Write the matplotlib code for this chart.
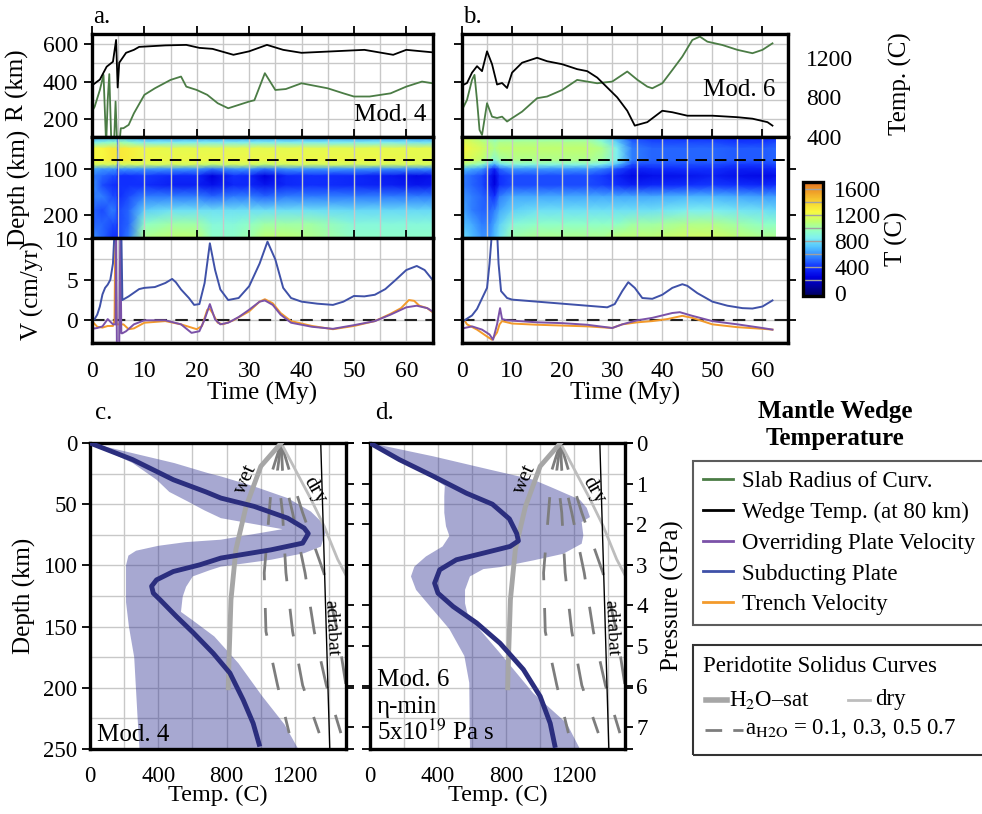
import numpy as np
import matplotlib
matplotlib.use("Agg")
import matplotlib.pyplot as plt
from matplotlib.colors import LinearSegmentedColormap, Normalize
from matplotlib.lines import Line2D
from matplotlib.patches import Rectangle
from matplotlib.ticker import MultipleLocator

plt.rcParams['font.family'] = ['Liberation Serif', 'DejaVu Serif']
plt.rcParams['mathtext.fontset'] = 'stix'
plt.rcParams['font.size'] = 17

# ---------------- data: panel a (Mod. 4) ----------------
t_R_a = [0, 0.5, 1.5, 2.2, 2.7, 3.0, 3.3, 3.7, 4.2, 4.5, 4.8, 5.2, 5.5, 6, 7, 8, 10, 12, 15, 17, 18,
         20, 22, 24, 26, 28, 30, 31, 33, 35, 37, 40, 45, 48, 50, 53, 57, 60, 63, 65]
R_a = [240, 265, 355, 436, 60, 300, 440, 60, 60, 293, 60, 60, 150, 150, 168, 230, 329, 364, 409, 427, 373,
       355, 329, 284, 257, 275, 293, 300, 445, 355, 360, 391, 364, 337, 320, 320, 337, 373, 400, 391]
t_wt_a = [0, 1.5, 2.8, 4.0, 4.6, 4.9, 5.2, 6.5, 8, 9, 14, 18, 20.5, 23, 27, 30, 33.4, 36.5, 40, 46, 52,
          57.5, 60, 65]
T_wt_a = [920, 980, 1110, 1160, 1380, 900, 1150, 1250, 1280, 1310, 1325, 1330, 1300, 1290, 1230, 1265,
          1330, 1280, 1250, 1265, 1280, 1230, 1280, 1255]

t_sub_a = [0, 0.5, 1, 1.5, 2, 2.5, 3, 3.5, 4, 4.3, 5.6, 5.8, 7, 9, 10, 12, 14, 15.3, 16, 17, 18.5, 19.5,
           20.5, 21.5, 22.5, 23.5, 24.5, 26, 28, 30, 32, 33.5, 35, 36.5, 38, 40, 43, 46, 48, 50, 52, 54,
           56, 58, 60, 62, 63.5, 65]
v_sub_a = [0, 0.15, 0.7, 1.7, 3.2, 4.0, 4.4, 5.0, 7.0, 11, 11, 2.5, 2.95, 3.85, 4.0, 4.1, 4.6, 5.1, 4.7,
           3.8, 2.75, 1.9, 2.0, 4.6, 9.5, 6.2, 3.8, 2.5, 2.75, 4.2, 7.0, 9.7, 7.5, 4.0, 2.75, 2.3, 2.05,
           1.9, 2.3, 3.0, 2.95, 3.15, 3.85, 5.0, 6.2, 6.7, 6.2, 5.0]
t_tr_a = [0, 1, 2, 3, 4, 4.3, 4.45, 4.7, 5.5, 6, 7, 8, 10, 14, 17, 20, 21, 22, 22.5, 23, 24, 25, 27, 30,
          32, 33, 34.5, 36, 38, 42, 46, 50, 54, 57, 59, 60.5, 61.5, 62.5, 64, 65]
v_tr_a = [-0.1, -0.8, -0.9, -0.7, -0.7, 0, 11, -0.5, -0.5, -0.5, -1.1, -1.0, -0.3, -0.1, -0.5, -1.1,
          -0.7, 1.3, 1.4, 0.9, -0.3, -0.5, 0, 1.1, 2.3, 2.6, 2.1, 0.9, -0.1, -0.7, -1.1, -0.7, -0.1,
          0.8, 1.5, 2.5, 2.4, 1.8, 1.5, 1.0]
t_ov_a = [0, 1, 2, 3, 4, 4.5, 4.6, 4.75, 5.2, 5.4, 5.6, 5.8, 6.5, 8, 10, 14, 17, 19, 20.5, 21.5, 22.5,
          23.5, 24.5, 26, 28, 30, 32, 33, 34.5, 36, 38, 42, 46, 50, 54, 57, 60, 62, 64, 65]
v_ov_a = [-1.05, -0.95, -0.75, 0.15, -0.5, -0.5, 11, -3, -3, 11, -1.6, -1.6, -1.35, -0.5, 0, 0, -0.5,
          -1.55, -1.35, 0.1, 2.0, 0.1, -0.5, -0.3, 0.4, 1.3, 2.3, 2.45, 1.9, 0.7, -0.3, -0.8, -1.05,
          -0.6, -0.1, 0.7, 1.6, 1.8, 1.5, 1.1]

# ---------------- data: panel b (Mod. 6) ----------------
t_R_b = [0, 1, 2, 2.5, 3, 3.5, 4, 5, 6, 7, 8, 9, 10, 12, 15, 17, 20, 23, 25, 27, 30, 32, 33, 35, 37, 38,
         40, 42, 44, 46, 47.5, 49, 52, 55, 58, 60, 62]
R_b = [248, 302, 409, 436, 300, 141, 114, 284, 212, 205, 212, 186, 204, 239, 311, 320, 355, 409, 400,
       391, 400, 436, 454, 410, 373, 364, 391, 462, 534, 623, 641, 614, 596, 570, 552, 570, 605]
t_wt_b = [0, 1, 2, 3, 4, 5, 6, 7, 8, 9, 10, 12, 15, 17, 20, 23, 25, 27, 29, 31, 33, 34.5, 37, 40, 42,
          45, 50, 55, 58, 61, 62]
T_wt_b = [920, 945, 1050, 1115, 1065, 1265, 1135, 930, 945, 895, 1050, 1150, 1200, 1165, 1135, 1085,
          1065, 1000, 900, 800, 665, 515, 550, 665, 650, 615, 615, 600, 585, 550, 515]

t_sub_b = [0.5, 2, 3, 4, 5, 5.5, 6, 7, 7.3, 7.8, 9, 10, 15, 20, 25, 29, 30.5, 32, 33.2, 34.5, 36, 38,
           40, 42, 44, 45, 47, 50, 53, 56, 58, 60, 62]
v_sub_b = [0, 0.6, 1.4, 2.7, 4.0, 7.0, 11, 11, 7.0, 3.6, 2.75, 2.55, 2.3, 2.05, 1.8, 1.6, 2.0, 3.6,
           4.7, 4.0, 2.75, 2.65, 3.15, 4.0, 4.45, 4.25, 3.35, 2.3, 1.8, 1.5, 1.45, 1.7, 2.45]
t_tr_b = [0.5, 1, 3, 5, 6, 7, 7.5, 8, 10, 15, 20, 25, 30, 32, 35, 38, 41, 44, 46, 50, 55, 60, 62]
v_tr_b = [0, -0.5, -1.15, -2.0, -2.4, -1.5, -0.5, -0.1, -0.4, -0.55, -0.65, -0.75, -0.95, -0.5,
          -0.25, -0.1, 0.15, 0.55, 0.3, -0.5, -0.85, -1.05, -1.15]
t_ov_b = [0.5, 2, 4, 5.5, 6.2, 7, 7.6, 8, 9, 15, 20, 25, 30, 32, 35, 38, 42, 43.5, 46, 50, 55, 60, 62]
v_ov_b = [-0.95, -0.75, -1.15, -1.75, -2.4, -0.5, 1.5, 0.15, 0, -0.25, -0.35, -0.55, -0.95, -0.5, 0,
          0.3, 0.9, 1.0, 0.55, -0.1, -0.5, -0.95, -1.15]

# ---------------- data: wedge temperature fields (coarse grid) ----------------
heat_depth = [30, 42, 55, 80, 90, 100, 115, 135, 160, 190, 220, 250]
hm_time_a = [0, 2, 4, 4.7, 5.0, 5.3, 7, 10, 15, 20, 23, 27, 30, 33, 37, 42, 50, 57, 62, 65]
hm_a = [
    [600, 850, 1250, 1250, 1150, 650, 550, 600, 550, 500, 500, 600],
    [650, 900, 1250, 1250, 1150, 600, 500, 450, 550, 450, 500, 500],
    [650, 950, 1300, 1300, 1150, 600, 450, 400, 450, 550, 450, 400],
    [650, 950, 1300, 1300, 1150, 600, 450, 400, 450, 500, 450, 400],
    [400, 450, 500, 500, 400, 300, 250, 250, 250, 300, 300, 300],
    [700, 1000, 1300, 1300, 1150, 600, 400, 400, 400, 450, 450, 450],
    [650, 950, 1280, 1280, 1150, 600, 400, 400, 450, 500, 500, 550],
    [600, 850, 1220, 1220, 1150, 600, 420, 400, 550, 750, 950, 1050],
    [600, 850, 1200, 1220, 1150, 600, 380, 350, 550, 800, 1000, 1100],
    [600, 850, 1200, 1220, 1150, 600, 380, 350, 550, 800, 1000, 1100],
    [600, 850, 1200, 1220, 1100, 520, 250, 300, 500, 800, 900, 950],
    [600, 850, 1200, 1220, 1150, 600, 400, 380, 550, 800, 900, 950],
    [600, 850, 1200, 1220, 1150, 600, 380, 380, 550, 800, 950, 1000],
    [620, 850, 1200, 1220, 1100, 520, 250, 320, 500, 800, 1000, 1100],
    [600, 850, 1200, 1220, 1150, 600, 380, 380, 550, 800, 1000, 1100],
    [600, 850, 1200, 1220, 1150, 600, 400, 400, 550, 800, 1000, 1050],
    [600, 850, 1200, 1220, 1150, 600, 380, 380, 550, 780, 900, 950],
    [600, 850, 1200, 1220, 1150, 580, 330, 350, 550, 780, 900, 950],
    [580, 820, 1200, 1200, 1150, 580, 280, 320, 550, 780, 900, 950],
    [580, 820, 1200, 1200, 1150, 580, 300, 330, 550, 780, 900, 950],
]
hm_time_b = [0, 2, 4, 5.5, 6.5, 7.5, 10, 15, 20, 25, 28, 31, 34, 38, 45, 50, 55, 60, 62.6]
hm_b = [
    [1150, 1200, 1250, 1200, 1050, 700, 550, 550, 600, 650, 700, 800],
    [1100, 1150, 1200, 1150, 1000, 650, 500, 500, 550, 550, 650, 700],
    [1000, 1100, 1150, 1100, 950, 600, 450, 450, 500, 500, 550, 600],
    [950, 1050, 1100, 1000, 750, 450, 350, 350, 450, 500, 550, 600],
    [900, 1000, 1050, 900, 650, 350, 250, 250, 400, 550, 650, 700],
    [950, 1050, 1100, 1000, 800, 500, 400, 400, 550, 650, 750, 800],
    [950, 1050, 1100, 1050, 900, 600, 450, 450, 650, 750, 900, 1000],
    [950, 1050, 1100, 1050, 900, 600, 450, 450, 650, 800, 950, 1050],
    [950, 1050, 1100, 1050, 900, 600, 450, 450, 650, 800, 950, 1050],
    [950, 1050, 1100, 1050, 900, 600, 450, 450, 650, 800, 950, 1050],
    [850, 950, 1050, 1000, 850, 550, 420, 430, 650, 800, 950, 1050],
    [650, 750, 850, 850, 700, 450, 350, 400, 650, 800, 950, 1100],
    [450, 500, 550, 550, 450, 350, 280, 350, 650, 800, 1000, 1100],
    [420, 450, 500, 500, 450, 380, 300, 380, 650, 800, 1000, 1100],
    [400, 450, 500, 500, 450, 400, 320, 400, 680, 850, 1050, 1150],
    [400, 450, 500, 500, 450, 400, 350, 420, 680, 850, 1050, 1150],
    [380, 420, 480, 480, 420, 350, 300, 400, 650, 820, 1000, 1100],
    [380, 420, 480, 480, 420, 350, 280, 380, 620, 800, 950, 1050],
    [400, 450, 500, 500, 450, 380, 300, 400, 620, 780, 950, 1050],
]

# ---------------- data: mantle wedge profiles ----------------
T_mean_c = [0, 250, 488, 680, 767, 962, 1158, 1255, 1279, 1246, 1060, 767, 644, 488, 390, 361, 371, 410,
            507, 605, 722, 820, 898, 956, 995]
d_mean_c = [0, 13.6, 30, 40, 45, 51.8, 61.4, 69.5, 74, 81.8, 87.3, 94, 99.5, 105, 111.8, 117, 122.7,
            128, 141.8, 155, 171.8, 188, 210, 229, 248]
T_hi_c = [0, 494, 689, 767, 962, 1158, 1294, 1363, 1382, 1353, 1255, 1060, 767, 700, 602, 563, 543, 533,
          600, 728, 870, 1010, 1140, 1220]
d_hi_c = [0, 16.4, 24.5, 27.3, 35.5, 45, 56, 65.4, 72.3, 84.6, 90, 95.4, 101, 104, 109, 117.5, 125.6,
          138, 144.7, 158, 180, 207, 230, 250]
T_lo_c = [0, 250, 390, 465, 572, 670, 767, 1128, 767, 560, 400, 270, 225, 211, 211, 228, 259, 269, 279, 290]
d_lo_c = [0, 16.4, 30, 40, 47.7, 55, 61.4, 70.4, 79, 81, 84, 88, 92, 100, 130, 150, 175, 200, 225, 250]

T_mean_d = [0, 173, 370, 567, 720, 820, 863, 873, 824, 666, 508, 410, 380, 400, 489, 627, 765, 902, 1001,
            1060, 1090]
d_mean_d = [0, 13.6, 27, 41, 50, 62, 74, 80, 84.5, 90, 95.4, 103.6, 114.5, 122.7, 133.6, 147, 163.6, 185,
            207, 229, 249]
T_hi_d = [0, 372, 706, 961, 1080, 1235, 1275, 1294, 1245, 1255, 1245, 1137, 961, 765, 667, 588, 559,
          559, 578, 647, 765, 961, 1157, 1235]
d_hi_d = [0, 10.9, 21.8, 30, 37, 46.4, 53, 60.5, 64.6, 75.5, 82.3, 90.5, 95.9, 101.4, 103, 109, 120,
          131, 142, 152.6, 171.7, 204.5, 229, 250]
T_lo_d = [0, 160, 350, 440, 437, 437, 447, 467, 427, 329, 261, 241, 271, 369, 467, 555, 584, 588]
d_lo_d = [0, 13.6, 27, 35, 43.6, 57, 68, 76, 84.5, 92.7, 101, 109, 120, 136, 152, 174, 196, 250]

# peridotite solidus curves (T in C, depth in km)
wet_T = [1120, 1001, 914, 855, 826, 816, 810]
wet_d = [0, 19, 52, 87, 128, 170, 200]
dry_T = [1120, 1295, 1372, 1451, 1500]
dry_d = [0, 46, 68, 95, 108]
a_depth = [0, 22, 57, 106, 154, 198, 237]
a_T = [
    [1120, 1070, 1050, 1021, 1031, 1099, 1167],
    [1120, 1099, 1128, 1148, 1187, 1246, 1343],
    [1120, 1128, 1187, 1260, 1314, 1385, 1470],
    [1120, 1167, 1246, 1370, 1451, 1500, 1540],
]
adiabat_T = [1352, 1405]
adiabat_d = [0, 250]
gpa_per_km = 1 / 33.1

# ---------------- colours ----------------
c_green = '#4b7c45'
c_purple = '#7b52a8'
c_blue = '#3f51a8'
c_orange = '#f39a2b'
c_navy = '#2b2e7e'

cm_vals = [-40, 250, 400, 550, 700, 850, 950, 1100, 1250, 1400, 1550, 1700]
cm_cols = ['#000060', '#0000e0', '#1030ff', '#3080ff', '#50c0ff', '#80f0f0', '#90ffc8', '#c0ff70',
           '#f8f840', '#f8d030', '#f0a028', '#e07020']
vmin, vmax = cm_vals[0], cm_vals[-1]
cmap = LinearSegmentedColormap.from_list(
    'wedge', [((v - vmin) / (vmax - vmin), c) for v, c in zip(cm_vals, cm_cols)])
norm = Normalize(vmin=vmin, vmax=vmax)

W, H = 982, 814
fig = plt.figure(figsize=(W / 100, H / 100), dpi=100)
TICK = 17


def box(l, t, r, b):
    return fig.add_axes([l / W, 1 - b / H, (r - l) / W, (b - t) / H])


def top_style(ax, labels_left, right):
    for s in ax.spines.values():
        s.set_linewidth(2.4)
    ax.set_xlim(0, 65.1)
    ax.xaxis.set_major_locator(MultipleLocator(10))
    ax.xaxis.set_minor_locator(MultipleLocator(5))
    ax.grid(True, which='both', axis='x', color='#c8c8c8', lw=1)
    ax.tick_params(which='major', direction='out', length=6, width=1.3, top=True, bottom=False,
                   labelbottom=False, left=True, labelleft=labels_left, right=right,
                   labelright=False, labelsize=TICK, pad=4)
    ax.tick_params(which='minor', length=0)


def top_column(x0, x1, t_R, R, t_wt, T_wt, hm_time, hm, vel, labels_left, right, mod_text, mod_xy):
    # radius of curvature + wedge temperature
    axR = box(x0, 34, x1, 137)
    top_style(axR, labels_left, right)
    axR.set_ylim(103, 655)
    axR.yaxis.set_major_locator(MultipleLocator(200))
    axR.yaxis.set_minor_locator(MultipleLocator(100))
    axR.grid(True, which='both', axis='y', color='#c8c8c8', lw=1)
    axR.plot(t_R, R, color=c_green, lw=1.3)
    axT = axR.twinx()
    axT.set_ylim(400, 1440)
    for s in axT.spines.values():
        s.set_visible(False)
    axT.plot(t_wt, T_wt, color='k', lw=1.3)
    axR.text(mod_xy[0], mod_xy[1], mod_text, transform=axR.transAxes, ha='right', va='center',
             fontsize=18)

    # temperature field
    axH = box(x0, 137, x1, 238)
    top_style(axH, labels_left, right)
    axH.pcolormesh(hm_time, heat_depth, np.array(hm).T, shading='gouraud', cmap=cmap, norm=norm)
    axH.set_ylim(250, 30)
    axH.set_yticks([100, 200])
    axH.axhline(80, color='k', lw=1.4, ls=(0, (6, 4)))

    # plate velocities
    axV = box(x0, 238, x1, 343)
    top_style(axV, labels_left, right)
    axV.set_ylim(-2.8, 10.15)
    axV.yaxis.set_major_locator(MultipleLocator(5))
    axV.yaxis.set_minor_locator(MultipleLocator(2.5))
    axV.grid(True, which='both', axis='y', color='#c8c8c8', lw=1)
    axV.axhline(0, color='#222222', lw=1.5, ls=(0, (6, 4)))
    (t_tr, v_tr), (t_ov, v_ov), (t_sub, v_sub) = vel
    axV.plot(t_tr, v_tr, color=c_orange, lw=1.4)
    axV.plot(t_ov, v_ov, color=c_purple, lw=1.4)
    axV.plot(t_sub, v_sub, color=c_blue, lw=1.4)
    axV.tick_params(axis='x', labelbottom=True, pad=7)
    axV.set_xlabel('Time (My)', fontsize=18, labelpad=0)
    return axR, axT, axH, axV


axR_a, axT_a, axH_a, axV_a = top_column(
    92, 433, t_R_a, R_a, t_wt_a, T_wt_a, hm_time_a, hm_a,
    [(t_tr_a, v_tr_a), (t_ov_a, v_ov_a), (t_sub_a, v_sub_a)], True, False, 'Mod. 4', (0.982, 0.21))
axT_a.set_yticks([])
axR_a.set_ylabel('R (km)', fontsize=18)
axR_a.yaxis.set_label_coords(-0.185, 0.5)
axH_a.set_ylabel('Depth (km)', fontsize=18)
axH_a.yaxis.set_label_coords(-0.178, 0.5)
axV_a.set_ylabel('V (cm/yr)', fontsize=18)
axV_a.yaxis.set_label_coords(-0.14, 0.5)

axR_b, axT_b, axH_b, axV_b = top_column(
    462, 788, t_R_b, R_b, t_wt_b, T_wt_b, hm_time_b, hm_b,
    [(t_tr_b, v_tr_b), (t_ov_b, v_ov_b), (t_sub_b, v_sub_b)], False, True, 'Mod. 6', (0.96, 0.46))
axT_b.set_yticks([400, 800, 1200])
axT_b.tick_params(length=0, pad=13, labelsize=TICK)
axT_b.set_ylabel('Temp. (C)', fontsize=18)
axT_b.yaxis.set_label_coords(1.31, 0.52)

fig.text(93 / W, 1 - 17 / H, 'a.', fontsize=18, va='center')
fig.text(463 / W, 1 - 17 / H, 'b.', fontsize=18, va='center')

# colour bar
cax = box(803, 182, 823, 296)
sm = plt.cm.ScalarMappable(norm=norm, cmap=cmap)
cb = fig.colorbar(sm, cax=cax, ticks=[0, 400, 800, 1200, 1600])
cb.outline.set_linewidth(2.4)
cax.tick_params(length=0, labelsize=TICK, pad=8)
for v in range(200, 1700, 200):
    cax.axhline(v, color='#a0a0a0', lw=1)
fig.text(896 / W, 1 - 239 / H, 'T (C)', rotation=90, fontsize=18, ha='center', va='center')


# ---------------- bottom panels ----------------
def bottom_panel(l, r, T_mean, d_mean, T_hi, d_hi, T_lo, d_lo):
    ax = box(l, 443, r, 749)
    for s in ax.spines.values():
        s.set_linewidth(2.4)
    ax.set_xlim(0, 1500)
    ax.set_ylim(250, 0)
    ax.xaxis.set_major_locator(MultipleLocator(400))
    ax.xaxis.set_minor_locator(MultipleLocator(200))
    ax.yaxis.set_major_locator(MultipleLocator(50))
    ax.yaxis.set_minor_locator(MultipleLocator(25))
    ax.set_axisbelow(True)
    ax.grid(True, which='both', color='#c8c8c8', lw=1)
    ax.tick_params(which='major', direction='out', length=6, width=1.3, bottom=False,
                   labelsize=16.5, pad=3)
    ax.tick_params(axis='x', pad=6)
    ax.tick_params(which='minor', length=0)

    ax.fill(list(T_hi) + list(T_lo[::-1]), list(d_hi) + list(d_lo[::-1]),
            color='#2e3192', alpha=0.42, lw=0, zorder=1)
    for Tc in a_T:
        ax.plot(Tc, a_depth, color='#7d7d7d', lw=2, ls=(0, (10, 10)), zorder=2)
    ax.plot(dry_T, dry_d, color='#bdbdbd', lw=2, zorder=2)
    ax.plot(wet_T, wet_d, color='#a6a6a6', lw=3.5, zorder=3)
    ax.plot(adiabat_T, adiabat_d, color='k', lw=1, zorder=3)
    ax.plot(T_mean, d_mean, color=c_navy, lw=3.5, zorder=5, solid_capstyle='butt')
    ax.text(914, 29.5, 'wet', rotation=66, fontsize=15, ha='center', va='center')
    ax.text(1314, 38.8, 'dry', rotation=-60, fontsize=15, ha='center', va='center')
    ax.text(1417, 151, 'adiabat', rotation=-87, fontsize=14, ha='center', va='center')
    ax.set_xlabel('Temp. (C)', fontsize=17.5, labelpad=-1)

    axP = ax.twinx()
    for s in axP.spines.values():
        s.set_visible(False)
    axP.set_ylim(250 * gpa_per_km, 0)
    axP.yaxis.set_major_locator(MultipleLocator(1))
    axP.tick_params(direction='out', length=6, width=1.3, labelsize=16.5, pad=2)
    return ax, axP


ax_c, axP_c = bottom_panel(90, 346, T_mean_c, d_mean_c, T_hi_c, d_hi_c, T_lo_c, d_lo_c)
ax_c.tick_params(right=True)
axP_c.tick_params(labelright=False)
ax_c.set_ylabel('Depth (km)', fontsize=18)
ax_c.yaxis.set_label_coords(-0.21, 0.5)
ax_c.text(0.027, 0.045, 'Mod. 4', transform=ax_c.transAxes, fontsize=18, ha='left', va='center')

ax_d, axP_d = bottom_panel(370, 625, T_mean_d, d_mean_d, T_hi_d, d_hi_d, T_lo_d, d_lo_d)
ax_d.tick_params(right=True, labelleft=False)
axP_d.tick_params(left=True)
axP_d.set_ylabel('Pressure (GPa)', fontsize=18)
axP_d.yaxis.set_label_coords(1.14, 0.5)
ax_d.text(0.027, 0.225, 'Mod. 6', transform=ax_d.transAxes, fontsize=18, ha='left', va='center')
ax_d.text(0.027, 0.137, 'η-min', transform=ax_d.transAxes, fontsize=18, ha='left', va='center')
ax_d.text(0.027, 0.055, '5x10$^{19}$ Pa s', transform=ax_d.transAxes, fontsize=18, ha='left',
          va='center')

fig.text(95 / W, 1 - 413 / H, 'c.', fontsize=18, va='center')
fig.text(375 / W, 1 - 413 / H, 'd.', fontsize=18, va='center')

# ---------------- legends ----------------
fig.text(835 / W, 1 - 425 / H, 'Mantle Wedge\nTemperature', fontsize=18, weight='bold',
         ha='center', va='center', linespacing=1.25)
handles = [Line2D([], [], color=c, lw=2) for c in [c_green, 'k', c_purple, c_blue, c_orange]]
labels = ['Slab Radius of Curv.', 'Wedge Temp. (at 80 km)', 'Overriding Plate Velocity',
          'Subducting Plate', 'Trench Velocity']
leg = fig.legend(handles, labels, loc='upper left', bbox_to_anchor=(693 / W, 1 - 461 / H),
                 frameon=True, fancybox=False, edgecolor='#333333', fontsize=16.5,
                 handlelength=1.3, handletextpad=0.4, labelspacing=0.42, borderaxespad=0,
                 borderpad=0.45)
leg.get_frame().set_linewidth(1.5)

fig.add_artist(Rectangle((693 / W, 1 - 755 / H), 300 / W, 110 / H, transform=fig.transFigure,
                         fill=False, lw=1.5, ec='#333333'))
fig.text(703 / W, 1 - 666 / H, 'Peridotite Solidus Curves', fontsize=16.5, va='center')
fig.add_artist(Line2D([706 / W, 727 / W], [1 - 700 / H] * 2, transform=fig.transFigure,
                      color='#a6a6a6', lw=4))
fig.text(729 / W, 1 - 700 / H, 'H$_2$O\u2013sat', fontsize=16.5, va='center')
fig.add_artist(Line2D([848 / W, 870 / W], [1 - 700 / H] * 2, transform=fig.transFigure,
                      color='#bdbdbd', lw=2))
fig.text(875 / W, 1 - 700 / H, 'dry', fontsize=16.5, va='center')
fig.add_artist(Line2D([705 / W, 743 / W], [1 - 730 / H] * 2, transform=fig.transFigure,
                      color='#7d7d7d', lw=2, ls=(0, (6, 4))))
fig.text(745 / W, 1 - 728 / H, 'a$_{\\rm H2O}$ = 0.1, 0.3, 0.5 0.7', fontsize=16.5, va='center')

fig.savefig('out.png', dpi=100)
